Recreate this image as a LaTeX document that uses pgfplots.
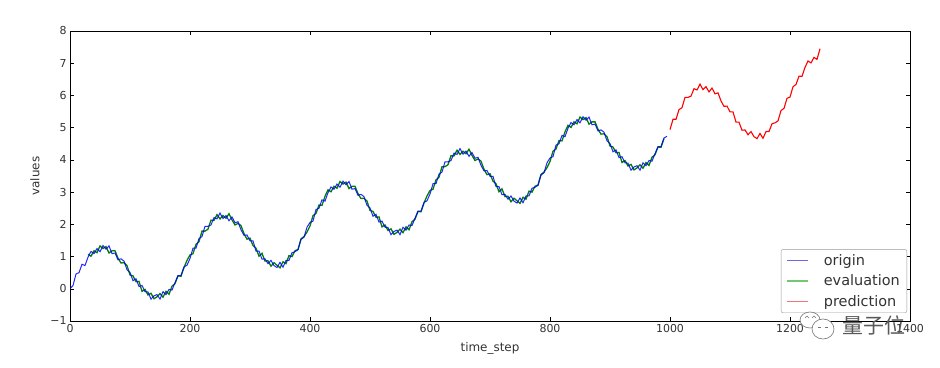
\documentclass[border=0pt]{standalone}
\usepackage{pgfplots}
\pgfplotsset{compat=1.18}
\usepackage{fontspec}
\setmainfont{DejaVu Sans}
\newfontfamily\cjk{Noto Sans CJK SC}
\definecolor{mplblue}{rgb}{0,0,1}
\definecolor{mplgreen}{rgb}{0,0.5,0}
\definecolor{mplred}{rgb}{1,0,0}
\definecolor{legblue}{rgb}{0.42,0.42,0.88}
\definecolor{leggreen}{rgb}{0.45,0.78,0.45}
\definecolor{legred}{rgb}{0.95,0.45,0.45}
\definecolor{txt}{rgb}{0.2,0.2,0.2}
\begin{document}
\begin{tikzpicture}
\begin{axis}[
  scale only axis,
  width=840bp, height=290bp,
  xmin=0, xmax=1400, ymin=-1, ymax=8,
  xtick={0,200,400,600,800,1000,1200,1400},
  ytick={-1,0,1,2,3,4,5,6,7,8},
  yticklabels={−1,0,1,2,3,4,5,6,7,8},
  /pgf/number format/assume math mode=true,
  /pgf/number format/1000 sep={},
  tick align=inside, xtick pos=both, ytick pos=both,
  major tick length=4bp,
  tick style={black, line width=0.5bp},
  axis line style={black, line width=0.8bp},
  ticklabel style={font=\fontsize{11}{13}\selectfont, text=txt},
  label style={font=\fontsize{12}{14}\selectfont, text=txt},
  xlabel={time\_step}, ylabel={values},
  xlabel style={yshift=-3bp},
  ylabel style={yshift=4bp},
  legend style={at={(1,0)}, anchor=south east, xshift=-3bp, yshift=8bp,
    draw=gray!80, rounded corners=2bp, font=\fontsize{14.5}{17}\selectfont,
    text=txt, inner xsep=5bp, inner ysep=3bp, row sep=4bp,
    /tikz/every odd column/.append style={column sep=13bp}},
  legend cell align=left,
  legend image code/.code={\draw[line width=1.5bp, #1] (0cm,0cm) -- (0.75cm,0cm);},
]
\addplot[mplgreen, line width=1.3bp, forget plot] table {
30 1.07
35 1.01
40 1.18
45 1.12
50 1.33
55 1.25
60 1.31
65 1.11
70 1.18
75 1.18
80 0.95
85 0.80
90 0.81
95 0.72
100 0.43
105 0.40
110 0.22
115 0.23
120 -0.08
125 -0.02
130 -0.19
135 -0.14
140 -0.31
145 -0.25
150 -0.15
155 -0.26
160 -0.08
165 -0.17
170 0.08
175 0.16
180 0.40
185 0.39
190 0.66
195 0.88
200 1.05
205 1.09
210 1.38
215 1.46
220 1.79
225 1.79
230 1.85
235 2.13
240 2.12
245 2.30
250 2.17
255 2.27
260 2.19
265 2.33
270 2.14
275 1.98
280 2.03
285 1.96
290 1.71
295 1.54
300 1.57
305 1.34
310 1.26
315 1.01
320 1.10
325 0.86
330 0.87
335 0.70
340 0.81
345 0.73
350 0.65
355 0.84
360 0.78
365 1.03
370 1.00
375 1.18
380 1.22
385 1.55
390 1.62
395 1.76
400 1.95
405 2.27
410 2.34
415 2.60
420 2.59
425 2.87
430 3.07
435 3.01
440 3.18
445 3.12
450 3.33
455 3.25
460 3.31
465 3.11
470 3.18
475 3.18
480 2.95
485 2.80
490 2.81
495 2.72
500 2.43
505 2.40
510 2.22
515 2.23
520 1.92
525 1.98
530 1.81
535 1.86
540 1.69
545 1.75
550 1.85
555 1.74
560 1.92
565 1.83
570 2.08
575 2.16
580 2.40
585 2.39
590 2.66
595 2.88
600 3.05
605 3.09
610 3.38
615 3.46
620 3.79
625 3.79
630 3.85
635 4.13
640 4.12
645 4.30
650 4.17
655 4.27
660 4.19
665 4.33
670 4.14
675 3.98
680 4.03
685 3.96
690 3.71
695 3.54
700 3.57
705 3.34
710 3.26
715 3.01
720 3.10
725 2.86
730 2.87
735 2.70
740 2.81
745 2.73
750 2.65
755 2.84
760 2.78
765 3.03
770 3.00
775 3.18
780 3.22
785 3.55
790 3.62
795 3.76
800 3.95
805 4.27
810 4.34
815 4.60
820 4.59
825 4.87
830 5.07
835 5.01
840 5.18
845 5.12
850 5.33
855 5.25
860 5.31
865 5.11
870 5.18
875 5.18
880 4.95
885 4.80
890 4.81
895 4.72
900 4.43
905 4.40
910 4.22
915 4.23
920 3.92
925 3.98
930 3.81
935 3.86
940 3.69
945 3.75
950 3.85
955 3.74
960 3.92
965 3.83
970 4.08
975 4.16
980 4.40
985 4.39
990 4.66
};
\addplot[mplblue, line width=1.0bp, opacity=0.85, forget plot] table {
0 0.00
5 0.10
10 0.46
15 0.50
20 0.76
25 0.72
30 0.98
35 1.16
40 1.09
45 1.25
50 1.15
55 1.34
60 1.23
65 1.33
70 1.09
75 1.11
80 0.90
85 0.93
90 0.86
95 0.59
100 0.51
105 0.25
110 0.31
115 0.07
120 0.10
125 -0.09
130 -0.10
135 -0.32
140 -0.22
145 -0.18
150 -0.32
155 -0.09
160 -0.18
165 -0.02
170 -0.04
175 0.19
180 0.41
185 0.41
190 0.68
195 0.73
200 0.94
205 1.26
210 1.26
215 1.56
220 1.62
225 1.94
230 1.94
235 1.98
240 2.21
245 2.17
250 2.35
255 2.18
260 2.27
265 2.11
270 2.23
275 2.05
280 2.08
285 1.83
290 1.66
295 1.67
300 1.49
305 1.49
310 1.17
315 1.17
320 0.92
325 0.93
330 0.78
335 0.88
340 0.72
345 0.66
350 0.82
355 0.67
360 0.88
365 0.88
370 1.12
375 1.15
380 1.21
385 1.53
390 1.60
395 1.91
400 2.06
405 2.10
410 2.46
415 2.50
420 2.76
425 2.72
430 2.98
435 3.16
440 3.09
445 3.25
450 3.15
455 3.34
460 3.23
465 3.33
470 3.09
475 3.11
480 2.90
485 2.93
490 2.86
495 2.59
500 2.51
505 2.25
510 2.31
515 2.07
520 2.10
525 1.91
530 1.90
535 1.68
540 1.78
545 1.82
550 1.68
555 1.91
560 1.82
565 1.98
570 1.96
575 2.19
580 2.41
585 2.41
590 2.68
595 2.73
600 2.94
605 3.26
610 3.26
615 3.56
620 3.62
625 3.94
630 3.94
635 3.98
640 4.21
645 4.17
650 4.35
655 4.18
660 4.27
665 4.11
670 4.23
675 4.05
680 4.08
685 3.83
690 3.66
695 3.67
700 3.49
705 3.49
710 3.17
715 3.17
720 2.92
725 2.93
730 2.78
735 2.88
740 2.72
745 2.66
750 2.82
755 2.67
760 2.88
765 2.88
770 3.12
775 3.15
780 3.21
785 3.53
790 3.60
795 3.91
800 4.06
805 4.10
810 4.46
815 4.50
820 4.76
825 4.72
830 4.98
835 5.16
840 5.09
845 5.25
850 5.15
855 5.34
860 5.23
865 5.33
870 5.09
875 5.11
880 4.90
885 4.93
890 4.86
895 4.59
900 4.51
905 4.25
910 4.31
915 4.07
920 4.10
925 3.91
930 3.90
935 3.68
940 3.78
945 3.82
950 3.68
955 3.91
960 3.82
965 3.98
970 3.96
975 4.19
980 4.41
985 4.41
990 4.68
995 4.73
};
\addplot[mplred, line width=1.1bp, forget plot] table {
1000 4.94
1005 5.26
1010 5.26
1015 5.56
1020 5.62
1025 5.94
1030 5.94
1035 5.98
1040 6.21
1045 6.17
1050 6.35
1055 6.18
1060 6.27
1065 6.11
1070 6.23
1075 6.05
1080 6.08
1085 5.83
1090 5.66
1095 5.67
1100 5.49
1105 5.49
1110 5.17
1115 5.17
1120 4.92
1125 4.93
1130 4.78
1135 4.88
1140 4.72
1145 4.66
1150 4.82
1155 4.67
1160 4.88
1165 4.88
1170 5.12
1175 5.15
1180 5.21
1185 5.53
1190 5.60
1195 5.91
1200 5.95
1205 6.27
1210 6.34
1215 6.60
1220 6.59
1225 6.87
1230 7.07
1235 7.01
1240 7.18
1245 7.12
1250 7.45
};
\addlegendimage{color=legblue, line width=1.5bp}
\addlegendentry{origin}
\addlegendimage{color=leggreen, line width=1.5bp}
\addlegendentry{evaluation}
\addlegendimage{color=legred, line width=1.5bp}
\addlegendentry{prediction}
\end{axis}
\begin{scope}[shift={(current axis.south west)}]
\draw[black!55, fill=white, line width=0.6bp] (740bp,1bp) ellipse [x radius=10bp, y radius=8bp];
\draw[black!55, line width=0.5bp] (735bp,3bp) -- (737bp,5bp) -- (739bp,3bp) (742bp,3bp) -- (744bp,5bp) -- (746bp,3bp);
\draw[black!55, fill=white, line width=0.6bp] (753bp,-8bp) ellipse [x radius=11bp, y radius=10bp];
\draw[black!55, line width=0.5bp] (748bp,-6bp) -- (751bp,-6bp) (755bp,-6bp) -- (758bp,-6bp);
\node[anchor=west, text=black!65, inner sep=0pt, font=\cjk\fontsize{21}{23}\selectfont] at (772bp,-4bp) {量子位};
\end{scope}
\path (current axis.south west) ++(-70bp,-47bp) (current axis.north east) ++(30bp,31bp);
\end{tikzpicture}
\end{document}
